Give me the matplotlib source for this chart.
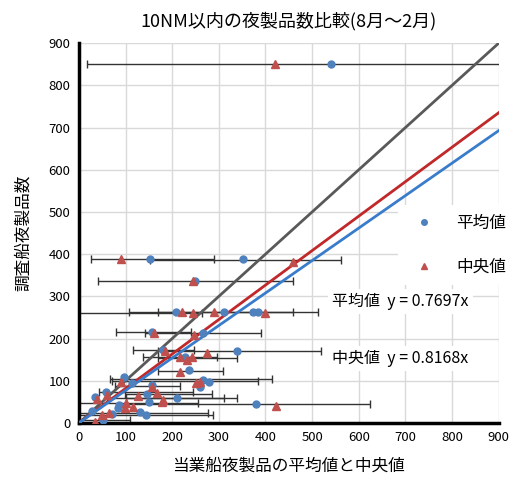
import matplotlib
matplotlib.use('Agg')
import matplotlib.pyplot as plt
import numpy as np

plt.rcParams['font.family'] = ['Noto Sans CJK JP', 'DejaVu Sans']

# mean (blue circles)
mean_x = [540, 152, 351, 248, 208, 311, 373, 384, 156, 265, 180, 339, 227, 236,
          96, 266, 279, 259, 113, 156, 34, 58, 146, 150, 210, 379, 86, 83, 131,
          143, 52, 28, 71]
mean_y = [850, 388, 388, 336, 263, 263, 262, 262, 215, 213, 173, 170, 156, 125,
          109, 102, 97, 85, 95, 90, 62, 73, 69, 50, 59, 45, 43, 36, 26,
          19, 7, 28, 21]
# median (red triangles)
med_x = [420, 90, 460, 244, 222, 244, 289, 400, 161, 246, 184, 274, 216, 231,
         242, 216, 90, 251, 259, 156, 39, 60, 126, 167, 178, 180, 422, 102, 116,
         99, 64, 49, 34]
med_y = [850, 388, 381, 336, 262, 260, 263, 260, 213, 208, 171, 166, 156, 149,
         156, 121, 97, 95, 97, 85, 57, 66, 64, 71, 50, 54, 40, 47, 38,
         36, 24, 19, 2]
# horizontal range bars
bar_y = [850, 388, 386, 336, 263, 262, 261, 215, 213, 173, 170, 156, 155, 123,
         105, 100, 88, 73, 69, 60, 58, 47, 45, 24, 19, 7]
bar_lo = [17, 26, 152, 40, 108, 170, -30, 79, 141, 116, 170, 137, 170, 170,
          66, 71, 77, 43, 99, 60, 100, -10, 100, -10, -10, -10]
bar_hi = [1000, 290, 561, 458, 458, 512, 263, 240, 390, 246, 519, 296, 339, 309,
          413, 384, 216, 244, 285, 311, 338, 255, 623, 276, 287, 109]

slope_mean = 0.7697
slope_med = 0.8168

fig = plt.figure(figsize=(5.19, 4.79), dpi=100)
ax = fig.add_axes([0.152, 0.117, 0.809, 0.793])

bar_y = np.array(bar_y)
bar_lo = np.array(bar_lo)
bar_hi = np.array(bar_hi)
mid = (bar_lo + bar_hi) / 2
ax.errorbar(mid, bar_y, xerr=[mid - bar_lo, bar_hi - mid], fmt='none',
            ecolor='#333333', elinewidth=1, capsize=3, capthick=1, zorder=2)

xs = np.array([0, 900])
ax.plot(xs, xs, color='#595959', lw=2, zorder=3)
ax.plot(xs, slope_med * xs, color='#c0282a', lw=2, zorder=3)
ax.plot(xs, slope_mean * xs, color='#3a7ccc', lw=2, zorder=3)

ax.plot(mean_x, mean_y, 'o', color='#4f81bd', ms=5, zorder=4, label='平均値')
ax.plot(med_x, med_y, '^', color='#c0504d', ms=5.5, zorder=4, label='中央値')

ax.set_xlim(0, 900)
ax.set_ylim(0, 900)
ax.set_xticks(range(0, 901, 100))
ax.set_yticks(range(0, 901, 100))
ax.grid(True, color='#d9d9d9', lw=1)
ax.set_axisbelow(True)
ax.tick_params(length=0, labelsize=9.5, pad=6)
for s in ['top', 'right']:
    ax.spines[s].set_visible(False)
for s in ['left', 'bottom']:
    ax.spines[s].set_linewidth(2.5)
    ax.spines[s].set_color('black')

ax.set_title('10NM以内の夜製品数比較(8月～2月)', fontsize=13, pad=12)
ax.set_xlabel('当業船夜製品の平均値と中央値', fontsize=12, labelpad=10)
ax.set_ylabel('調査船夜製品数', fontsize=12, labelpad=12)

leg = ax.legend(loc='upper left', bbox_to_anchor=(0.75, 0.59),
                bbox_transform=fig.transFigure, fontsize=12, frameon=True,
                labelspacing=1.6, handletextpad=0.9, borderpad=0.6, markerscale=0.8)
leg.get_frame().set_facecolor('white')
leg.get_frame().set_edgecolor('none')
leg.get_frame().set_alpha(1)

fig.text(0.64, 0.37, '平均値  y = 0.7697x', fontsize=11.5, va='center',
         bbox=dict(facecolor='white', edgecolor='none', pad=3))
fig.text(0.64, 0.252, '中央値  y = 0.8168x', fontsize=11.5, va='center',
         bbox=dict(facecolor='white', edgecolor='none', pad=3))

fig.savefig('out.png', dpi=100)
